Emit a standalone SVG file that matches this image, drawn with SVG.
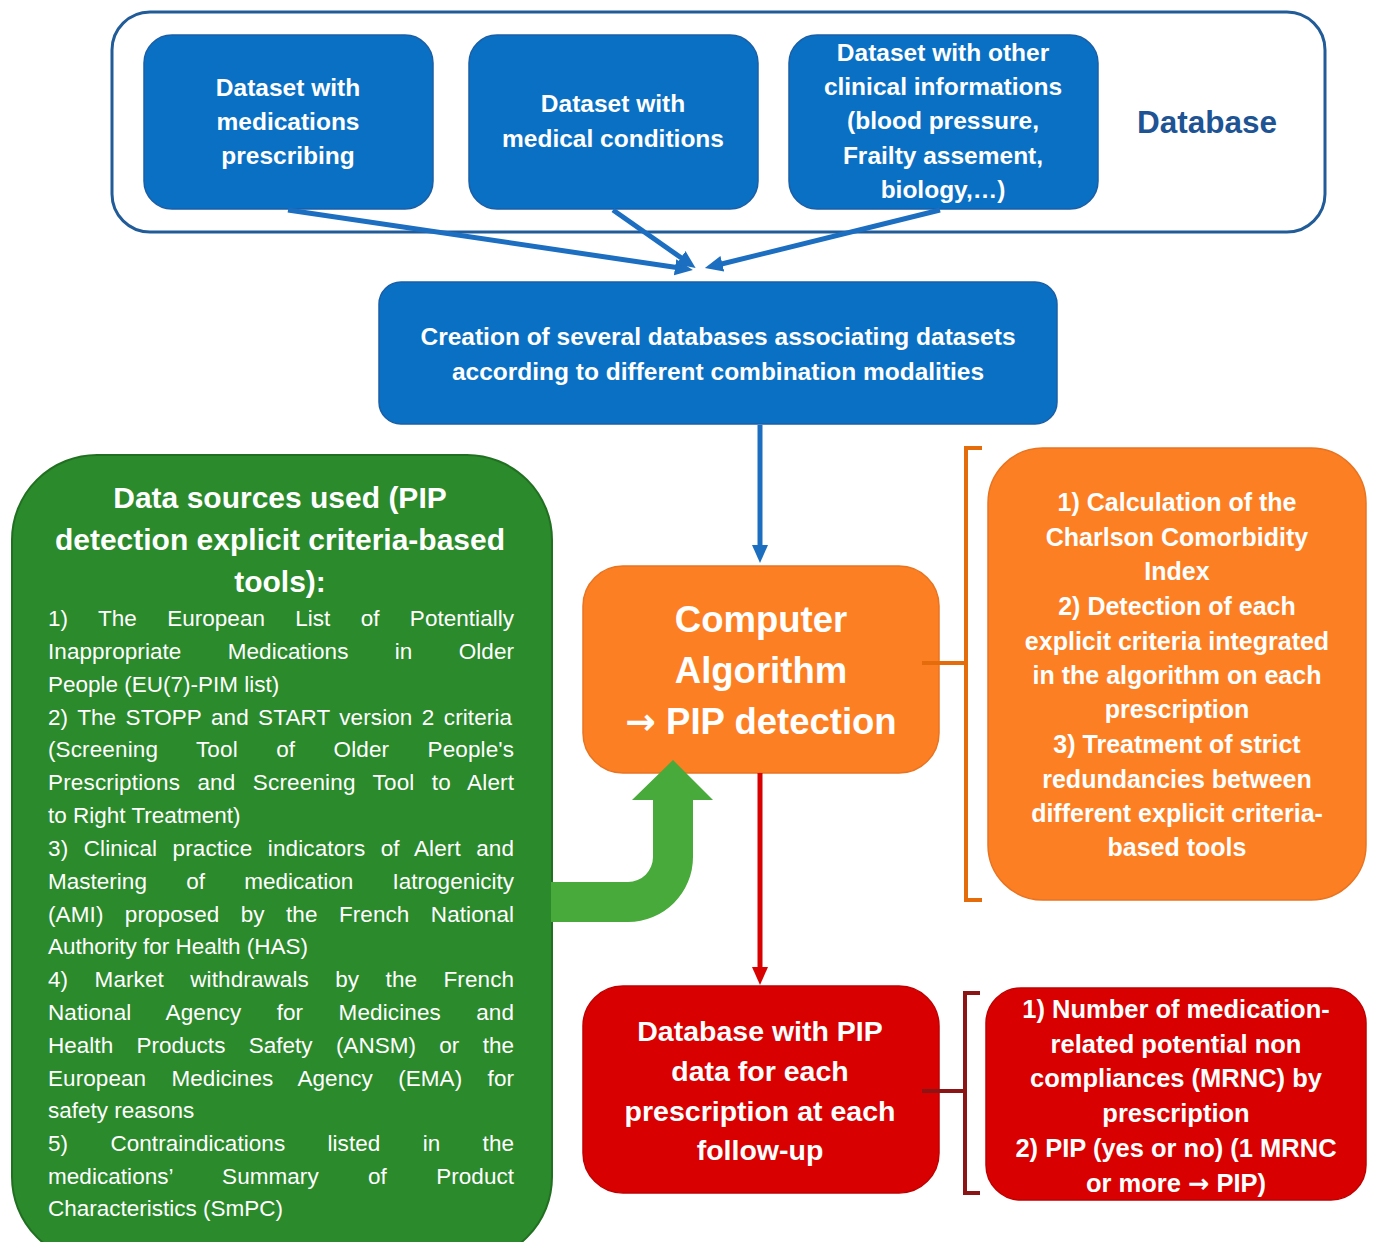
<svg xmlns="http://www.w3.org/2000/svg" width="1375" height="1242" viewBox="0 0 1375 1242">
<defs>
<style>
.t{font-family:"Liberation Sans",Arial,sans-serif;fill:#fff;text-anchor:middle;font-weight:bold}
.b{font-family:"Liberation Sans",Arial,sans-serif;fill:#fff;font-size:22.5px}
.arw{font-family:"DejaVu Sans",sans-serif;font-weight:bold}
.blue{fill:#0A70C4;stroke:#1A5FA6;stroke-width:1.5}
.conn{fill:none;stroke-width:5}
</style>
<marker id="ab" markerUnits="userSpaceOnUse" markerWidth="20" markerHeight="18" refX="5" refY="8" orient="auto"><path d="M0,0 L18,8 L0,16 z" fill="#1C6EC1"/></marker>
<marker id="ar" markerUnits="userSpaceOnUse" markerWidth="20" markerHeight="18" refX="5" refY="8" orient="auto"><path d="M0,0 L18,8 L0,16 z" fill="#D90000"/></marker>
</defs>
<rect width="1375" height="1242" fill="#fff"/>

<g id="database">
<rect x="112" y="12" width="1213" height="220" rx="38" fill="#fff" stroke="#215C98" stroke-width="3"/>
<text class="t" x="1207" y="133" font-size="31.5" style="fill:#1E5493">Database</text>
</g>

<g id="ds-medications">
<rect class="blue" x="144" y="35" width="289" height="174" rx="28"/>
<text class="t" font-size="24.5"><tspan x="288" y="96">Dataset with</tspan><tspan x="288" y="130">medications</tspan><tspan x="288" y="164">prescribing</tspan></text>
</g>
<g id="ds-conditions">
<rect class="blue" x="469" y="35" width="289" height="174" rx="28"/>
<text class="t" font-size="24.5"><tspan x="613" y="112">Dataset with</tspan><tspan x="613" y="147">medical conditions</tspan></text>
</g>
<g id="ds-other">
<rect class="blue" x="789" y="35" width="309" height="174" rx="28"/>
<text class="t" font-size="24.5"><tspan x="943" y="61">Dataset with other</tspan><tspan x="943" y="95">clinical informations</tspan><tspan x="943" y="129">(blood pressure,</tspan><tspan x="943" y="164">Frailty assement,</tspan><tspan x="943" y="198">biology,…)</tspan></text>
</g>

<g id="creation">
<rect class="blue" x="379" y="282" width="678" height="142" rx="22"/>
<text class="t" font-size="24.5"><tspan x="718" y="345">Creation of several databases associating datasets</tspan><tspan x="718" y="380">according to different combination modalities</tspan></text>
</g>

<g id="algorithm">
<rect x="583" y="566" width="356" height="207" rx="40" fill="#FD7F24" stroke="#E87420" stroke-width="1.5"/>
<text class="t" font-size="36.5"><tspan x="761" y="632">Computer</tspan><tspan x="761" y="683">Algorithm</tspan><tspan x="761" y="734"><tspan class="arw">→</tspan> PIP detection</tspan></text>
</g>

<g id="algorithm-steps">
<rect x="988" y="448" width="378" height="452" rx="55" fill="#FD7F24" stroke="#E87420" stroke-width="1.5"/>
<text class="t" font-size="25"><tspan x="1177" y="511">1) Calculation of the</tspan><tspan x="1177" y="546">Charlson Comorbidity</tspan><tspan x="1177" y="580">Index</tspan><tspan x="1177" y="615">2) Detection of each</tspan><tspan x="1177" y="650">explicit criteria integrated</tspan><tspan x="1177" y="684">in the algorithm on each</tspan><tspan x="1177" y="718">prescription</tspan><tspan x="1177" y="753">3) Treatment of strict</tspan><tspan x="1177" y="788">redundancies between</tspan><tspan x="1177" y="822">different explicit criteria-</tspan><tspan x="1177" y="856">based tools</tspan></text>
</g>

<g id="pip-database">
<rect x="583" y="986" width="356" height="207" rx="40" fill="#D80000" stroke="#C00000" stroke-width="1.5"/>
<text class="t" font-size="28.5"><tspan x="760" y="1041">Database with PIP</tspan><tspan x="760" y="1081">data for each</tspan><tspan x="760" y="1121">prescription at each</tspan><tspan x="760" y="1160">follow-up</tspan></text>
</g>

<g id="pip-outputs">
<rect x="986" y="988" width="380" height="212" rx="35" fill="#D80000" stroke="#C00000" stroke-width="1.5"/>
<text class="t" font-size="25.5"><tspan x="1176" y="1018">1) Number of medication-</tspan><tspan x="1176" y="1053">related potential non</tspan><tspan x="1176" y="1087">compliances (MRNC) by</tspan><tspan x="1176" y="1122">prescription</tspan><tspan x="1176" y="1157">2) PIP (yes or no) (1 MRNC</tspan><tspan x="1176" y="1192">or more <tspan class="arw">→</tspan> PIP)</tspan></text>
</g>

<g id="data-sources">
<rect x="12" y="455" width="540" height="807" rx="85" fill="#2B8A2B" stroke="#217021" stroke-width="2"/>
<text class="t" font-size="30"><tspan x="280" y="508">Data sources used (PIP</tspan><tspan x="280" y="550">detection explicit criteria-based</tspan><tspan x="280" y="592">tools):</tspan></text>
<g class="b">
<text x="48" y="626" word-spacing="24" textLength="466" lengthAdjust="spacing">1) The European List of Potentially</text>
<text x="48" y="659" word-spacing="40" textLength="466" lengthAdjust="spacing">Inappropriate Medications in Older</text>
<text x="48" y="692">People (EU(7)-PIM list)</text>
<text x="48" y="725" word-spacing="3" textLength="464" lengthAdjust="spacing">2) The STOPP and START version 2 criteria</text>
<text x="48" y="757" word-spacing="32" textLength="466" lengthAdjust="spacing">(Screening Tool of Older People's</text>
<text x="48" y="790" word-spacing="11" textLength="466" lengthAdjust="spacing">Prescriptions and Screening Tool to Alert</text>
<text x="48" y="823">to Right Treatment)</text>
<text x="48" y="856" word-spacing="9" textLength="466" lengthAdjust="spacing">3) Clinical practice indicators of Alert and</text>
<text x="48" y="889" word-spacing="33" textLength="466" lengthAdjust="spacing">Mastering of medication Iatrogenicity</text>
<text x="48" y="922" word-spacing="15" textLength="466" lengthAdjust="spacing">(AMI) proposed by the French National</text>
<text x="48" y="954">Authority for Health (HAS)</text>
<text x="48" y="987" word-spacing="20" textLength="466" lengthAdjust="spacing">4) Market withdrawals by the French</text>
<text x="48" y="1020" word-spacing="29" textLength="466" lengthAdjust="spacing">National Agency for Medicines and</text>
<text x="48" y="1053" word-spacing="17" textLength="466" lengthAdjust="spacing">Health Products Safety (ANSM) or the</text>
<text x="48" y="1086" word-spacing="19" textLength="466" lengthAdjust="spacing">European Medicines Agency (EMA) for</text>
<text x="48" y="1118">safety reasons</text>
<text x="48" y="1151" word-spacing="36" textLength="466" lengthAdjust="spacing">5) Contraindications listed in the</text>
<text x="48" y="1184" word-spacing="43" textLength="466" lengthAdjust="spacing">medications’ Summary of Product</text>
<text x="48" y="1216">Characteristics (SmPC)</text>
</g>
</g>

<g id="connectors">
<line class="conn" x1="288" y1="210" x2="680" y2="268" stroke="#1C6EC1" marker-end="url(#ab)"/>
<line class="conn" x1="613" y1="210" x2="685" y2="260.5" stroke="#1C6EC1" marker-end="url(#ab)"/>
<line class="conn" x1="940" y1="210" x2="717.5" y2="265" stroke="#1C6EC1" marker-end="url(#ab)"/>
<line class="conn" x1="760" y1="425" x2="760" y2="550" stroke="#1C6EC1" stroke-width="4" marker-end="url(#ab)"/>
<line class="conn" x1="760" y1="773" x2="760" y2="972" stroke="#D90000" stroke-width="4" marker-end="url(#ar)"/>
<path d="M551 882 L628 882 A25 25 0 0 0 653 857 L653 800 L632 800 L673 760 L713 800 L693 800 L693 857 A65 65 0 0 1 628 922 L551 922 Z" fill="#47AA3A"/>
<path d="M982 448 L966 448 L966 900 L982 900 M922 663 L966 663" fill="none" stroke="#E46C0A" stroke-width="4"/>
<path d="M980 993 L965 993 L965 1193 L980 1193 M922 1091 L965 1091" fill="none" stroke="#8B1414" stroke-width="4"/>
</g>
</svg>
